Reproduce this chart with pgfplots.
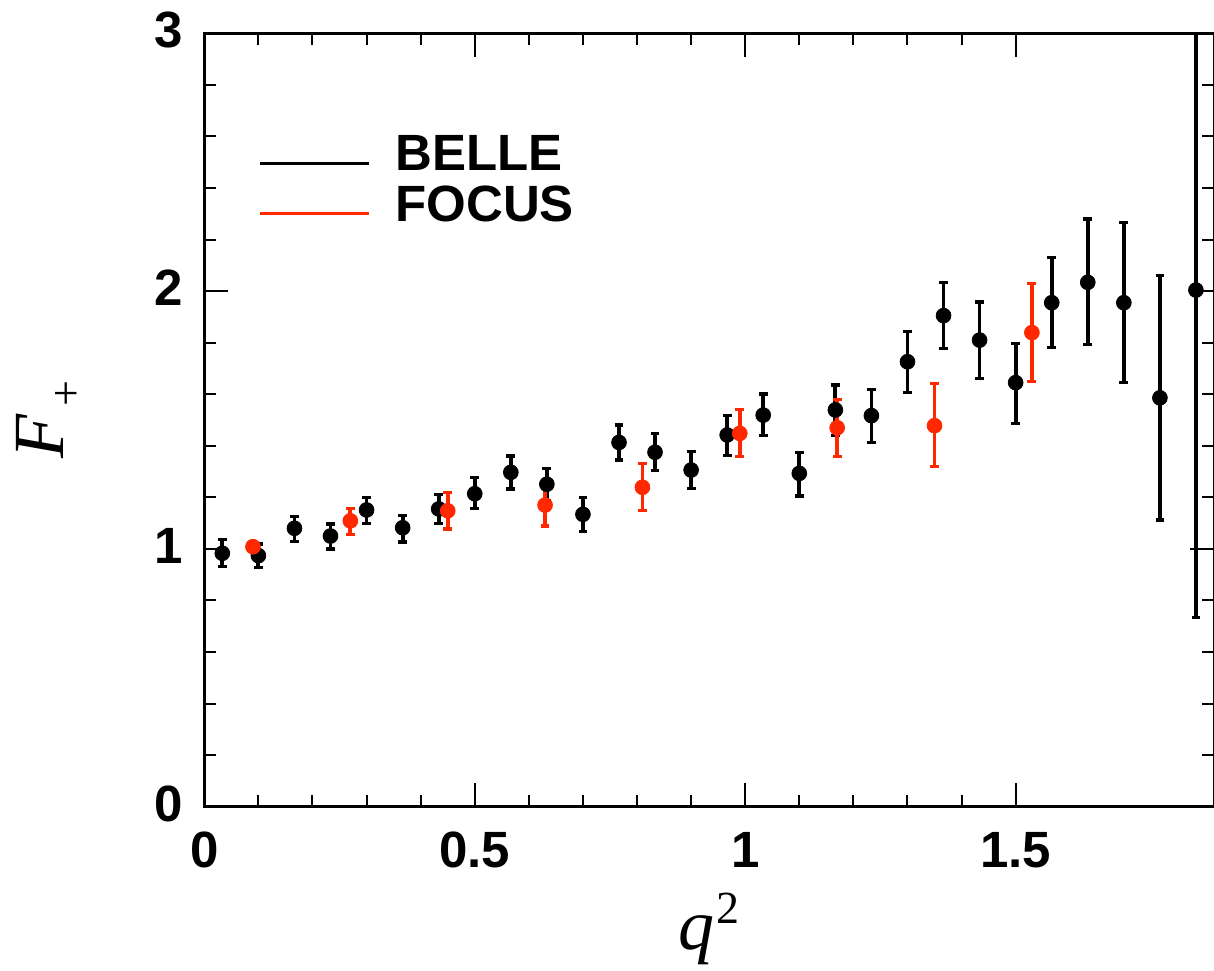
\documentclass[border=0pt]{standalone}
\usepackage{fontspec}
\setmainfont{Liberation Sans}
\newfontfamily\tnr{Liberation Serif}
\usepackage{pgfplots}
\pgfplotsset{compat=1.18}
\definecolor{focusred}{RGB}{255,40,0}

\pgfplotstableread{
x y ep em
0.0333 0.983 0.054 0.052
0.1000 0.974 0.045 0.045
0.1667 1.080 0.045 0.051
0.2333 1.050 0.047 0.050
0.3000 1.151 0.048 0.054
0.3667 1.082 0.048 0.055
0.4333 1.155 0.055 0.055
0.5000 1.214 0.062 0.058
0.5667 1.297 0.063 0.065
0.6333 1.251 0.062 0.062
0.7000 1.134 0.065 0.065
0.7667 1.413 0.068 0.068
0.8333 1.375 0.073 0.072
0.9000 1.306 0.071 0.072
0.9667 1.442 0.077 0.080
1.0333 1.519 0.082 0.080
1.1000 1.293 0.082 0.088
1.1667 1.539 0.097 0.100
1.2333 1.517 0.102 0.105
1.3000 1.726 0.117 0.119
1.3667 1.905 0.127 0.127
1.4333 1.810 0.148 0.148
1.5000 1.645 0.153 0.158
1.5667 1.955 0.176 0.175
1.6333 2.034 0.246 0.242
1.7000 1.955 0.310 0.310
1.7667 1.586 0.476 0.474
1.8333 2.004 1.270 1.270
}\belle

\pgfplotstableread{
x y ep em
0.09 1.0085 0.020 0.020
0.27 1.109 0.048 0.052
0.45 1.148 0.072 0.071
0.63 1.170 0.081 0.081
0.81 1.239 0.093 0.091
0.99 1.448 0.093 0.090
1.17 1.470 0.110 0.112
1.35 1.478 0.164 0.159
1.53 1.839 0.191 0.190
}\focus

\begin{document}
\begin{tikzpicture}
\begin{axis}[
  scale only axis, width=504.85pt, height=386.7pt,
  xmin=0, xmax=1.8667, ymin=0, ymax=3,
  xtick={0,0.5,1,1.5}, ytick={0,1,2,3},
  xticklabels={0,0.5,1,1.5}, yticklabels={0,1,2,3},
  minor x tick num=4, minor y tick num=4,
  tick align=inside,
  major tick length=12pt, minor tick length=6pt,
  tick style={black, line width=1pt},
  axis line style={line width=1.5pt},
  ticklabel style={font=\bfseries\fontsize{25.5}{28}\selectfont, inner sep=0pt},
  xticklabel style={yshift=-12.5pt},
  yticklabel style={xshift=-10.5pt, yshift=1.5pt},
  xlabel={\tnr\fontsize{36}{40}\selectfont\itshape q\kern1pt\raisebox{13pt}{\upshape\fontsize{23}{24}\selectfont 2}},
  xlabel style={at={(axis description cs:0.5,-0.1841)}, anchor=base, inner sep=0pt},
  ylabel={\tnr\fontsize{36}{40}\selectfont\itshape F\upshape\kern4pt\raisebox{-9pt}{\fontsize{23}{24}\selectfont +}},
  ylabel style={at={(axis description cs:-0.13994,0.5)}, anchor=base, inner sep=0pt},
  legend image code/.code={\draw[#1] (0pt,-4.5pt) -- (54.5pt,-4.5pt);},
  legend style={draw=none, fill=none, at={(axis description cs:0.05318,0.8685)}, anchor=north west,
    inner sep=0pt, row sep=6pt, nodes={inner sep=0pt},
    font=\bfseries\fontsize{25.5}{28}\selectfont,
    /tikz/every odd column/.append style={column sep=12.5pt}},
  legend cell align=left,
]
\addplot[black, only marks, mark=*, mark size=3.7pt, forget plot,
  error bars/.cd, y dir=both, y explicit,
  error bar style={line width=1.9pt, black},
  error mark options={rotate=90, line width=1.6pt, mark size=2.2pt, black}]
  table[x=x, y=y, y error plus=ep, y error minus=em] {\belle};
\addplot[focusred, only marks, mark=*, mark size=3.7pt, forget plot,
  error bars/.cd, y dir=both, y explicit,
  error bar style={line width=1.9pt, focusred},
  error mark options={rotate=90, line width=1.6pt, mark size=2.2pt, focusred}]
  table[x=x, y=y, y error plus=ep, y error minus=em] {\focus};
\addlegendimage{black, line width=1.5pt}
\addlegendentry{BELLE}
\addlegendimage{focusred, line width=1.5pt}
\addlegendentry{FOCUS}
\end{axis}
\pgfresetboundingbox
\path[use as bounding box] (-102.15pt,-81.65pt) rectangle (504.85pt,403.35pt);
\end{tikzpicture}
\end{document}
